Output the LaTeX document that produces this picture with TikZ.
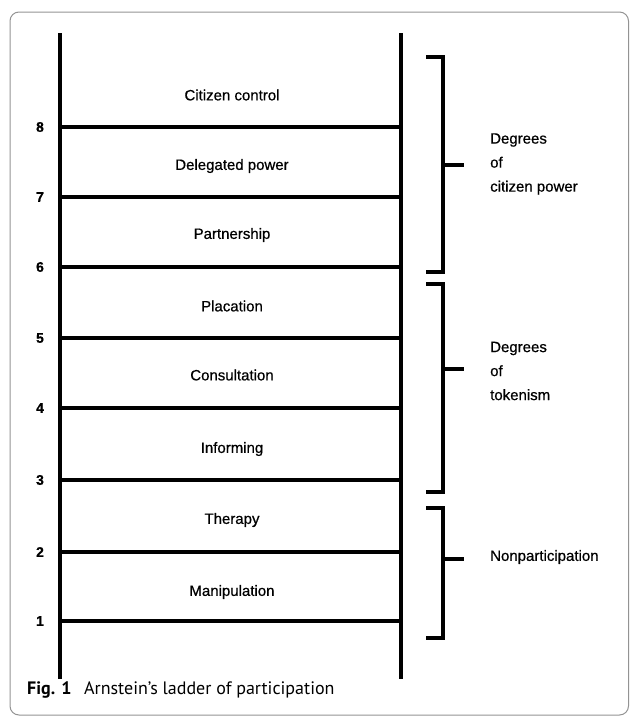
\documentclass[tikz,border=0pt]{standalone}
\usepackage{fontspec}
\setmainfont{Liberation Sans}[FakeBold=0.6]
\newfontfamily\capfont{PT Sans}
\newfontfamily\lblfont{Liberation Sans}[FakeBold=0.6]
\begin{document}
\begin{tikzpicture}[x=1pt,y=-1pt,
  rail/.style={line width=3.2pt},
  rung/.style={line width=3.2pt},
  brk/.style={line width=3.2pt},
  rungtxt/.style={font=\lblfont\fontsize{15}{18}\selectfont, inner sep=0pt},
  numtxt/.style={font=\lblfont\bfseries\fontsize{14}{16}\selectfont, inner sep=0pt},
  grptxt/.style={font=\lblfont\fontsize{15}{24}\selectfont, align=left, anchor=west, inner sep=0pt}]
\useasboundingbox (0,0) rectangle (630,716);
\draw[gray!85, line width=1pt, rounded corners=9pt] (10,12) rectangle (628.5,715);
% rails
\coordinate (lt) at (60,33); \coordinate (lb) at (60,679);
\coordinate (rt) at (401,33); \coordinate (rb) at (401,679);
\draw[rail] (lt) -- (lb);
\draw[rail] (rt) -- (rb);
% rungs
\foreach \n/\y in {8/127,7/197,6/267,5/338,4/408,3/480,2/552,1/621}{
  \coordinate (l\n) at (60,\y); \coordinate (r\n) at (401,\y);
  \draw[rung] (l\n) -- (r\n);
  \node[numtxt] (n\n) at (40,\y) {\n};
}
% rung labels
\node[rungtxt] (t8) at (232,95) {Citizen control};
\node[rungtxt] (t7) at (232,166) {Delegated power};
\node[rungtxt] (t6) at (232,235) {Partnership};
\node[rungtxt] (t5) at (232,306) {Placation};
\node[rungtxt] (t4) at (232,375) {Consultation};
\node[rungtxt] (t3) at (232,449) {Informing};
\node[rungtxt] (t2) at (232,520) {Therapy};
\node[rungtxt] (t1) at (232,592) {Manipulation};
% brackets
\foreach \k/\a/\m/\b in {A/57/165/272, B/284/369/492, C/508/559/638}{
  \coordinate (\k top) at (426,\a);
  \coordinate (\k bot) at (426,\b);
  \coordinate (\k mid) at (443,\m);
  \coordinate (\k tip) at (464,\m);
  \draw[brk] (\k top) -- (443,\a) -- (443,\b) -- (\k bot);
  \draw[brk] (\k mid) -- (\k tip);
}
\node[grptxt] (g1) at (490,164) {Degrees\\of\\citizen power};
\node[grptxt] (g2) at (490,371) {Degrees\\of\\tokenism};
\node[grptxt] (g3) at (490,557) {Nonparticipation};
% caption
\node[anchor=west, inner sep=0pt, font=\capfont\fontsize{18}{21}\selectfont] (cap) at (27,690) {\textbf{Fig. 1}\hspace{0.7em}Arnstein’s ladder of participation};
\end{tikzpicture}
\end{document}
